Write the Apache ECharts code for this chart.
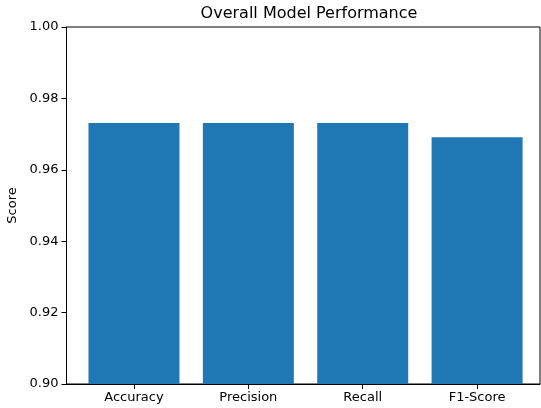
<!DOCTYPE html>
<html>
<head>
<meta charset="utf-8">
<script src="https://cdn.jsdelivr.net/npm/echarts@6/dist/echarts.min.js"></script>
<style>html,body{margin:0;padding:0;background:#fff}#c{width:541px;height:408px}</style>
</head>
<body>
<div id="c"></div>
<script>
const categories = ["Accuracy", "Precision", "Recall", "F1-Score"];
const scores = [0.9731, 0.9731, 0.9731, 0.9691];
const yTicks = [0.90, 0.92, 0.94, 0.96, 0.98, 1.00];

const chart = echarts.init(document.getElementById('c'), null, {renderer: 'canvas'});
const font = 'DejaVu Sans';
chart.setOption({
  animation: false,
  title: {
    text: 'Overall Model Performance',
    left: 304, textAlign: 'center', top: 1,
    textStyle: {fontFamily: font, fontSize: 16, fontWeight: 'normal', color: '#000'}
  },
  grid: {left: 66.5, right: 1, top: 27, bottom: 24, outerBoundsMode: 'none', containLabel: false, show: true, borderColor: '#000', borderWidth: 1, backgroundColor: 'transparent'},
  xAxis: {
    type: 'value', min: -0.59, max: 3.55,
    splitLine: {show: false},
    axisLine: {show: true, onZero: false, lineStyle: {color: '#000'}},
    axisTick: {show: true, customValues: categories.map((c, i) => i), length: 5, lineStyle: {color: '#000'}},
    axisLabel: {customValues: categories.map((c, i) => i), formatter: v => categories[Math.round(v)] || '', fontFamily: font, fontSize: 13, color: '#000', margin: 7}
  },
  yAxis: {
    type: 'value', min: 0.90, max: 1.00, interval: 0.02,
    name: 'Score', nameLocation: 'middle', nameGap: 45,
    nameTextStyle: {fontFamily: font, fontSize: 13, color: '#000'},
    splitLine: {show: false},
    axisLine: {show: true, onZero: false, lineStyle: {color: '#000'}},
    axisTick: {show: true, length: 5, lineStyle: {color: '#000'}},
    axisLabel: {formatter: v => v.toFixed(2), fontFamily: font, fontSize: 13, color: '#000', margin: 8}
  },
  series: [{
    type: 'bar',
    data: scores.map((s, i) => [i, s]),
    barWidth: 91,
    itemStyle: {color: '#1f77b4'}
  }]
});
</script>
</body>
</html>
